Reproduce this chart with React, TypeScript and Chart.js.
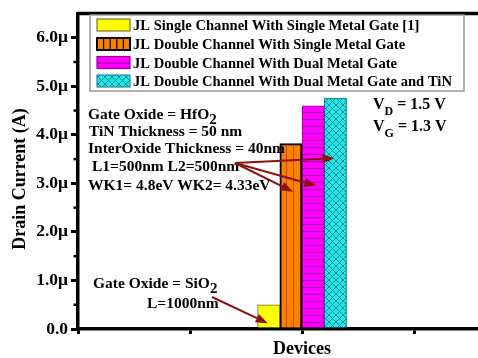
import { useEffect, useRef } from 'react';
import { Chart, registerables } from 'chart.js';

Chart.register(...registerables);

// Device variants and their drain current (µA)
const seriesLabels = [
  'JL Single Channel With Single Metal Gate [1]',
  'JL Double Channel With Single Metal Gate',
  'JL Double Channel With Dual Metal Gate',
  'JL Double Channel With Dual Metal Gate and TiN',
];
const drainCurrentMicroA = [0.5, 3.82, 4.6, 4.76];
const deviceSlot = 2;
const xTickLabels: Record<number, string> = { 2: 'Devices' };
const yTickValues = [0, 1, 2, 3, 4, 5, 6];
const yMax = 6.5;
const xMax = 3.57;
// where each callout arrow lands on its bar (µA)
const arrowTargetsMicroA = [0.12, 2.83, 2.95, 3.52];

const SERIF = '"Liberation Serif", "Times New Roman", serif';
const ARROW = '#8b1212';

function makePattern(w: number, h: number, draw: (g: CanvasRenderingContext2D) => void) {
  const c = document.createElement('canvas');
  c.width = w;
  c.height = h;
  const g = c.getContext('2d')!;
  draw(g);
  return g.createPattern(c, 'repeat')!;
}

function buildFills() {
  const orange = makePattern(7, 1, (g) => {
    g.fillStyle = '#ff8000';
    g.fillRect(0, 0, 7, 1);
    g.fillStyle = '#c04e00';
    g.fillRect(6, 0, 1, 1);
  });
  const magenta = makePattern(1, 7, (g) => {
    g.fillStyle = '#ff00ff';
    g.fillRect(0, 0, 1, 7);
    g.fillStyle = '#a800a8';
    g.fillRect(0, 0, 1, 1);
  });
  const cyan = makePattern(7, 7, (g) => {
    g.fillStyle = '#1ee8e8';
    g.fillRect(0, 0, 7, 7);
    g.strokeStyle = '#168a96';
    g.lineWidth = 1;
    g.beginPath();
    g.moveTo(-1, -1);
    g.lineTo(8, 8);
    g.moveTo(8, -1);
    g.lineTo(-1, 8);
    g.stroke();
  });
  return { orange, magenta, cyan };
}

type Part = [string, boolean?];

function richText(ctx: CanvasRenderingContext2D, x: number, y: number, parts: Part[], size: number, subSize: number, subDrop: number) {
  let cx = x;
  for (const [t, sub] of parts) {
    ctx.font = `bold ${sub ? subSize : size}px ${SERIF}`;
    ctx.fillText(t, cx, sub ? y + subDrop : y);
    cx += ctx.measureText(t).width;
  }
}

function arrow(ctx: CanvasRenderingContext2D, x1: number, y1: number, x2: number, y2: number) {
  const ang = Math.atan2(y2 - y1, x2 - x1);
  const len = 12;
  const half = 4.5;
  const bx = x2 - len * Math.cos(ang);
  const by = y2 - len * Math.sin(ang);
  ctx.strokeStyle = ARROW;
  ctx.fillStyle = ARROW;
  ctx.lineWidth = 2;
  ctx.beginPath();
  ctx.moveTo(x1, y1);
  ctx.lineTo(bx, by);
  ctx.stroke();
  ctx.beginPath();
  ctx.moveTo(x2, y2);
  ctx.lineTo(bx + half * Math.sin(ang), by - half * Math.cos(ang));
  ctx.lineTo(bx - half * Math.sin(ang), by + half * Math.cos(ang));
  ctx.closePath();
  ctx.fill();
}

export default function App() {
  const ref = useRef<HTMLCanvasElement>(null);

  useEffect(() => {
    const canvas = ref.current!;
    const fills = buildFills();
    const barFills = ['#ffff00', fills.orange, fills.magenta, fills.cyan];
    const barBorders = ['#6d6d20', '#000000', '#8a008a', '#167c88'];
    const barBorderWidths = [1, 2, 1, 1];

    const decorations = {
      id: 'decorations',
      afterDraw(chart: any) {
        const { ctx, chartArea: a, scales } = chart;
        const ys = scales.y;
        ctx.save();

        // top frame line
        ctx.strokeStyle = '#000';
        ctx.lineWidth = 3.5;
        ctx.beginPath();
        ctx.moveTo(a.left - 1.5, a.top);
        ctx.lineTo(a.right, a.top);
        ctx.stroke();

        // minor ticks on the current axis
        ctx.lineWidth = 2.5;
        for (let v = 0.5; v < yMax; v += 1) {
          const py = ys.getPixelForValue(v);
          ctx.beginPath();
          ctx.moveTo(a.left - 4.5, py);
          ctx.lineTo(a.left, py);
          ctx.stroke();
        }

        // y axis title
        ctx.fillStyle = '#000';
        ctx.save();
        ctx.translate(20, 179);
        ctx.rotate(-Math.PI / 2);
        ctx.textAlign = 'center';
        ctx.textBaseline = 'middle';
        ctx.font = `bold 18px ${SERIF}`;
        ctx.fillText('Drain Current (A)', 0, 0);
        ctx.restore();

        // legend
        const lx = 90, ly = 15, lw = 374, lh = 76;
        ctx.fillStyle = '#fff';
        ctx.fillRect(lx, ly, lw, lh);
        ctx.strokeStyle = '#9a9a9a';
        ctx.lineWidth = 1.5;
        ctx.strokeRect(lx, ly, lw, lh);
        const rows = [25, 44, 62.5, 81];
        const sx = 97, sw = 33, sh = 12;
        rows.forEach((cy, i) => {
          const top = cy - sh / 2;
          ctx.fillStyle = i === 0 ? '#ffff00' : i === 1 ? '#ff8000' : i === 2 ? '#ff00ff' : fills.cyan;
          ctx.fillRect(sx, top, sw, sh);
          if (i === 1) {
            ctx.strokeStyle = '#000';
            ctx.lineWidth = 1.2;
            for (let k = 1; k < 5; k++) {
              const px = sx + (sw * k) / 5;
              ctx.beginPath();
              ctx.moveTo(px, top);
              ctx.lineTo(px, top + sh);
              ctx.stroke();
            }
          }
          if (i === 2) {
            ctx.strokeStyle = '#9a009a';
            ctx.lineWidth = 1;
            ctx.beginPath();
            ctx.moveTo(sx, cy + 0.5);
            ctx.lineTo(sx + sw, cy + 0.5);
            ctx.stroke();
          }
          ctx.strokeStyle = i === 0 ? '#77772a' : i === 1 ? '#000' : i === 2 ? '#9a009a' : '#2a8a96';
          ctx.lineWidth = i === 1 ? 2 : 1.2;
          ctx.strokeRect(sx, top, sw, sh);
          ctx.fillStyle = '#000';
          ctx.font = `bold 14.6px ${SERIF}`;
          ctx.textBaseline = 'alphabetic';
          ctx.textAlign = 'left';
          ctx.fillText(seriesLabels[i], 133, cy + 5);
        });

        // parameter notes
        ctx.fillStyle = '#000';
        const fs = 15.5;
        richText(ctx, 88, 119, [['Gate Oxide = HfO'], ['2', true]], fs, 15, 5);
        richText(ctx, 89, 136, [['TiN Thickness = 50 nm']], fs, fs, 0);
        richText(ctx, 88, 153, [['InterOxide Thickness = 40nm']], fs, fs, 0);
        richText(ctx, 92, 171, [['L1=500nm L2=500nm']], fs, fs, 0);
        richText(ctx, 88, 190, [['WK1= 4.8eV WK2= 4.33eV']], fs, fs, 0);
        richText(ctx, 93, 288, [['Gate Oxide = SiO'], ['2', true]], fs, 15, 5);
        richText(ctx, 147, 308, [['L=1000nm']], fs, fs, 0);
        richText(ctx, 373, 109, [['V'], ['D', true], [' = 1.5 V']], 16, 12, 6);
        richText(ctx, 373, 131, [['V'], ['G', true], [' = 1.3 V']], 16, 12, 6);

        // callout arrows to the bars
        const tip = (i: number, dx: number) => {
          const bar = chart.getDatasetMeta(i).data[0];
          return [bar.x + dx, ys.getPixelForValue(arrowTargetsMicroA[i])];
        };
        const [t0x, t0y] = tip(0, -1);
        arrow(ctx, 212, 297, t0x, t0y);
        const [t1x, t1y] = tip(1, 2);
        const [t2x, t2y] = tip(2, 3);
        const [t3x, t3y] = tip(3, -1);
        arrow(ctx, 235, 163, t3x, t3y);
        arrow(ctx, 235, 163, t1x, t1y);
        arrow(ctx, 235, 163, t2x, t2y);

        ctx.restore();
      },
    };

    const chart = new Chart(canvas, {
      type: 'bar',
      data: {
        datasets: seriesLabels.map((label, i) => ({
          label,
          data: [{ x: deviceSlot, y: drainCurrentMicroA[i] }],
          backgroundColor: barFills[i],
          borderColor: barBorders[i],
          borderWidth: barBorderWidths[i],
          barThickness: 22.25,
        })),
      },
      options: {
        animation: false,
        responsive: false,
        devicePixelRatio: 1,
        layout: { padding: { top: 9, right: 0, bottom: 0, left: 0 } },
        plugins: { legend: { display: false }, tooltip: { enabled: false } },
        scales: {
          x: {
            type: 'linear',
            min: 0,
            max: xMax,
            offset: false,
            afterFit: (s: any) => {
              s.height = 29;
            },
            ticks: {
              stepSize: 1,
              autoSkip: false,
              maxRotation: 0,
              includeBounds: false,
              padding: 5,
              color: '#000',
              font: { family: SERIF, size: 18, weight: 'bold' },
              callback: (v: any) => xTickLabels[v as number] ?? '',
            },
            grid: { drawOnChartArea: false, offset: false, tickLength: 5, lineWidth: 3, color: '#000' },
            border: { display: true, width: 3.5, color: '#000' },
          },
          y: {
            min: 0,
            max: yMax,
            afterFit: (s: any) => {
              s.width = 78;
            },
            afterBuildTicks: (s: any) => {
              s.ticks = yTickValues.map((value) => ({ value }));
            },
            ticks: {
              padding: 3,
              color: '#000',
              font: { family: SERIF, size: 17.5, weight: 'bold' },
              callback: (v: any) => (v === 0 ? '0.0' : `${Number(v).toFixed(1)}μ`),
            },
            grid: { drawOnChartArea: false, tickLength: 7, lineWidth: 3, color: '#000' },
            border: { display: true, width: 3.5, color: '#000' },
          },
        },
      },
      plugins: [decorations],
    } as any);

    return () => chart.destroy();
  }, []);

  return (
    <div style={{ position: 'fixed', left: 0, top: 0, width: 478, height: 358, background: '#fff' }}>
      <canvas ref={ref} width={478} height={358} />
    </div>
  );
}
